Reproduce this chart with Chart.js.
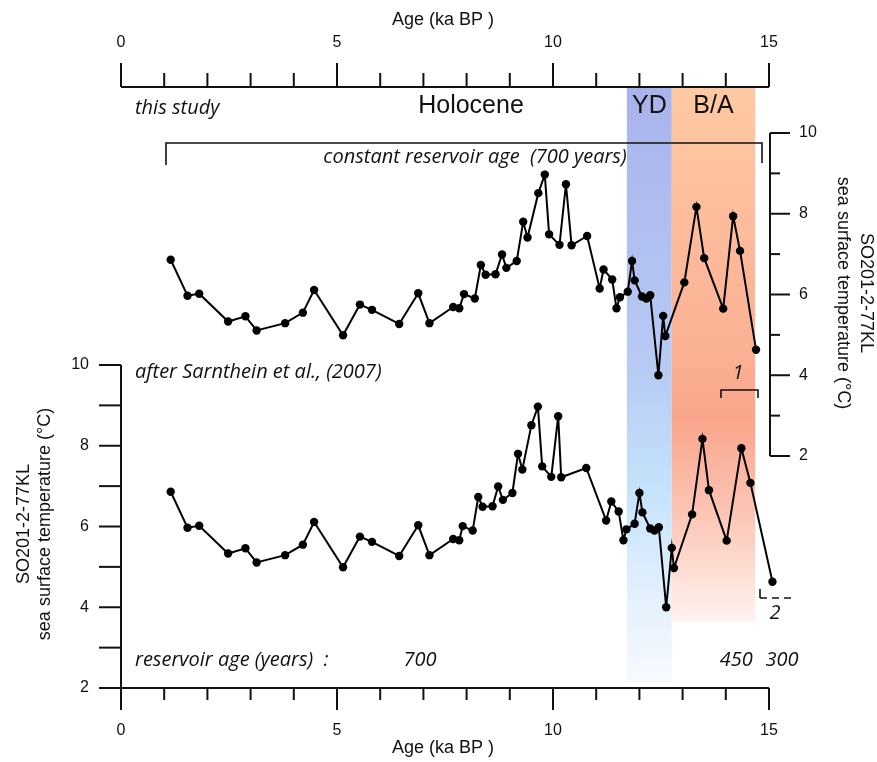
<!DOCTYPE html>
<html>
<head>
<meta charset="utf-8">
<script src="https://cdn.jsdelivr.net/npm/chart.js@4.4.1/dist/chart.umd.min.js"></script>
<style>
  html, body { margin: 0; padding: 0; background: #fff; }
  #wrap { width: 877px; height: 762px; }
</style>
</head>
<body>
<div id="wrap"><canvas id="sstChart" width="877" height="762"></canvas></div>
<script>
// --- Data ---
// SST values (°C), same samples on both age models
const sst = [6.86, 5.97, 6.02, 5.33, 5.46, 5.11, 5.29, 5.55, 6.11, 4.99,
             5.75, 5.62, 5.27, 6.03, 5.29, 5.69, 5.66, 6.01, 5.90, 6.73,
             6.49, 6.50, 6.99, 6.66, 6.83, 7.80, 7.41, 8.51, 8.97, 7.49,
             7.23, 8.73, 7.22, 7.45, 6.15, 6.62, 6.37, 5.66, 5.93, 6.07,
             6.83, 6.35, 5.95, 5.90, 5.98, 4.00, 5.47, 4.97, 6.30, 8.17,
             6.90, 5.65, 7.94, 7.08, 4.63];

// ages (ka BP), this study (constant reservoir age 700 years)
const ageThisStudy = [1.15, 1.54, 1.81, 2.48, 2.88, 3.14, 3.80, 4.21, 4.47, 5.14,
                      5.53, 5.81, 6.44, 6.88, 7.14, 7.69, 7.83, 7.94, 8.19, 8.33,
                      8.44, 8.67, 8.82, 8.92, 9.16, 9.31, 9.41, 9.66, 9.81, 9.91,
                      10.15, 10.30, 10.43, 10.79, 11.08, 11.17, 11.37, 11.47, 11.55, 11.73,
                      11.83, 11.89, 12.06, 12.16, 12.25, 12.44, 12.55, 12.60, 13.04, 13.32,
                      13.50, 13.94, 14.17, 14.33, 14.70];

// ages (ka BP), after Sarnthein et al. (2007)
const ageSarnthein = [1.15, 1.54, 1.81, 2.48, 2.88, 3.14, 3.80, 4.21, 4.47, 5.14,
                      5.53, 5.81, 6.44, 6.88, 7.14, 7.69, 7.83, 7.91, 8.14, 8.27,
                      8.37, 8.60, 8.73, 8.84, 9.06, 9.19, 9.29, 9.50, 9.65, 9.75,
                      9.96, 10.12, 10.19, 10.77, 11.23, 11.35, 11.52, 11.63, 11.70, 11.89,
                      12.00, 12.07, 12.25, 12.35, 12.45, 12.62, 12.75, 12.80, 13.22, 13.46,
                      13.61, 14.02, 14.36, 14.57, 15.08];

// axis ticks
const ageTicks = [0, 1, 2, 3, 4, 5, 6, 7, 8, 9, 10, 11, 12, 13, 14, 15];
const ageLabels = [0, 5, 10, 15];
const sstTicks = [2, 3, 4, 5, 6, 7, 8, 9, 10];
const sstLabels = [2, 4, 6, 8, 10];

// chronozones (ka BP)
const ydAges = [11.71, 12.75];
const baAges = [12.75, 14.68];

// reservoir ages printed under the lower curve
const reservoirText = ['700', '450', '300'];
const reservoirAt = [6.92, 14.24, 15.30];

const FONT = '"Liberation Sans", Arial, sans-serif';
const FONT_IT = '"Open Sans", sans-serif';
const ITALIC = 'italic 20px ' + FONT_IT;

function toPoints(ages, values) {
    return ages.map((a, i) => ({ x: a, y: values[i] }));
}

function line(ctx, x1, y1, x2, y2) {
    ctx.beginPath();
    ctx.moveTo(x1, y1);
    ctx.lineTo(x2, y2);
    ctx.stroke();
}

function text(ctx, s, x, y, font, align) {
    ctx.font = font;
    ctx.textAlign = align || 'center';
    ctx.textBaseline = 'middle';
    ctx.fillText(s, x, y);
}

function band(ctx, x1, x2, top, bottom, stops) {
    const g = ctx.createLinearGradient(0, top, 0, bottom);
    stops.forEach(s => g.addColorStop(s[0], s[1]));
    ctx.fillStyle = g;
    ctx.fillRect(x1, top, x2 - x1, bottom - top);
}

// --- Plugin: bands, axes and annotations ---
const figurePlugin = {
    id: 'figure',
    beforeDatasetsDraw(chart) {
        const ctx = chart.ctx;
        const x = chart.scales.x;
        ctx.save();
        band(ctx, x.getPixelForValue(ydAges[0]), x.getPixelForValue(ydAges[1]), 88, 682, [
            [0, '#a8b3eb'], [0.48, '#b8cbf4'], [0.68, '#c5e3fb'], [0.85, '#e3f0fd'], [1, '#f8f9ff']
        ]);
        band(ctx, x.getPixelForValue(baAges[0]), x.getPixelForValue(baAges[1]), 88, 622, [
            [0, '#fec9a3'], [0.5, '#fbb094'], [0.62, '#f9a58b'], [0.8, '#fcc6b6'], [1, '#fff3ef']
        ]);
        ctx.restore();
    },
    afterDraw(chart) {
        const ctx = chart.ctx;
        const x = chart.scales.x, yT = chart.scales.yTop, yB = chart.scales.yBot;
        ctx.save();
        ctx.strokeStyle = '#111';
        ctx.fillStyle = '#111';
        ctx.lineWidth = 2;

        // top age axis
        const topY = 87;
        line(ctx, x.getPixelForValue(0), topY, x.getPixelForValue(15), topY);
        ageTicks.forEach(v => {
            const px = x.getPixelForValue(v);
            line(ctx, px, topY, px, topY - (ageLabels.includes(v) ? 24 : 14));
        });
        ageLabels.forEach(v => text(ctx, String(v), x.getPixelForValue(v), 43, '16px ' + FONT));
        text(ctx, 'Age (ka BP )', 443, 20, '18px ' + FONT);

        // bottom age axis
        const botY = yB.getPixelForValue(2);
        line(ctx, x.getPixelForValue(0), botY, x.getPixelForValue(15), botY);
        ageTicks.forEach(v => {
            if (v === 0) return;
            const px = x.getPixelForValue(v);
            line(ctx, px, botY, px, botY + (ageLabels.includes(v) ? 22 : 12));
        });
        ageLabels.forEach(v => text(ctx, String(v), x.getPixelForValue(v), 731, '16px ' + FONT));
        text(ctx, 'Age (ka BP )', 443, 748, '18px ' + FONT);

        // left SST axis (lower curve)
        const lx = x.getPixelForValue(0);
        line(ctx, lx, yB.getPixelForValue(10), lx, botY + 22);
        sstTicks.forEach(v => {
            const py = yB.getPixelForValue(v);
            line(ctx, lx - 22, py, lx, py);
        });
        sstLabels.forEach(v => text(ctx, String(v), 89, yB.getPixelForValue(v), '16px ' + FONT, 'right'));

        // right SST axis (upper curve)
        const rx = x.getPixelForValue(15) + 1;
        line(ctx, rx, yT.getPixelForValue(10), rx, yT.getPixelForValue(2));
        sstTicks.forEach(v => {
            const py = yT.getPixelForValue(v);
            line(ctx, rx, py, rx + (sstLabels.includes(v) ? 20 : 10), py);
        });
        sstLabels.forEach(v => text(ctx, String(v), 799, yT.getPixelForValue(v), '16px ' + FONT, 'left'));

        // axis titles
        ctx.save();
        ctx.translate(24, 524);
        ctx.rotate(-Math.PI / 2);
        text(ctx, 'SO201-2-77KL', 0, 0, '18px ' + FONT);
        text(ctx, 'sea surface temperature (°C)', 0, 21, '18px ' + FONT);
        ctx.restore();
        ctx.save();
        ctx.translate(866, 293);
        ctx.rotate(Math.PI / 2);
        text(ctx, 'SO201-2-77KL', 0, 0, '18px ' + FONT);
        text(ctx, 'sea surface temperature (°C)', 0, 23, '18px ' + FONT);
        ctx.restore();

        // chronozone labels
        text(ctx, 'this study', 135, 108, ITALIC, 'left');
        text(ctx, 'Holocene', 471, 106, '25px ' + FONT);
        text(ctx, 'YD', (x.getPixelForValue(ydAges[0]) + x.getPixelForValue(ydAges[1])) / 2, 106, '25px ' + FONT);
        text(ctx, 'B/A', (x.getPixelForValue(baAges[0]) + x.getPixelForValue(baAges[1])) / 2, 106, '25px ' + FONT);

        // constant reservoir age bracket
        ctx.lineWidth = 1.6;
        ctx.beginPath();
        ctx.moveTo(166, 165); ctx.lineTo(166, 143); ctx.lineTo(762, 143); ctx.lineTo(762, 163);
        ctx.stroke();
        text(ctx, 'constant reservoir age  (700 years)', 475, 157, ITALIC);

        text(ctx, 'after Sarnthein et al., (2007)', 135, 372, ITALIC, 'left');

        // bracket 1
        ctx.beginPath();
        ctx.moveTo(721, 398); ctx.lineTo(721, 390); ctx.lineTo(758, 390); ctx.lineTo(758, 398);
        ctx.stroke();
        text(ctx, '1', 738, 373, ITALIC);

        // bracket 2
        ctx.beginPath();
        ctx.moveTo(760, 589); ctx.lineTo(760, 598);
        ctx.stroke();
        ctx.setLineDash([7, 5]);
        line(ctx, 760, 598, 793, 598);
        ctx.setLineDash([]);
        text(ctx, '2', 775, 613, ITALIC);

        // reservoir ages
        text(ctx, 'reservoir age (years)  :', 135, 660, ITALIC, 'left');
        reservoirText.forEach((s, i) => text(ctx, s, x.getPixelForValue(reservoirAt[i]), 660, ITALIC));

        ctx.restore();
    }
};

const lineStyle = {
    borderColor: '#000',
    borderWidth: 2,
    pointRadius: 4.2,
    pointBackgroundColor: '#000',
    pointBorderColor: '#000',
    pointBorderWidth: 0,
    tension: 0,
    clip: false
};

new Chart(document.getElementById('sstChart'), {
    type: 'line',
    data: {
        datasets: [
            Object.assign({ label: 'this study', data: toPoints(ageThisStudy, sst), xAxisID: 'x', yAxisID: 'yTop' }, lineStyle),
            Object.assign({ label: 'Sarnthein et al. (2007)', data: toPoints(ageSarnthein, sst), xAxisID: 'x', yAxisID: 'yBot' }, lineStyle)
        ]
    },
    options: {
        responsive: false,
        animation: false,
        layout: { padding: { left: 121, right: 108, top: 87, bottom: 74 } },
        plugins: { legend: { display: false }, tooltip: { enabled: false } },
        scales: {
            x: { type: 'linear', min: 0, max: 15, display: false },
            // upper curve: 10 °C near the top, 2 °C at mid height
            yTop: { type: 'linear', min: -3.746, max: 11.139, display: false },
            // lower curve: 2 °C on the bottom axis
            yBot: { type: 'linear', min: 2, max: 16.886, display: false }
        }
    },
    plugins: [figurePlugin]
});
</script>
</body>
</html>
